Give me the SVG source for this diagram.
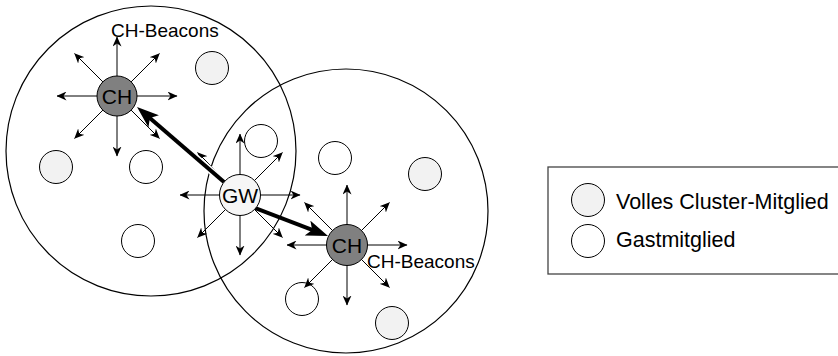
<svg xmlns="http://www.w3.org/2000/svg" width="838" height="356" viewBox="0 0 838 356">
<style>
  .big { fill: none; stroke: #000; stroke-width: 1.2; }
  .full { fill: #f2f2f2; stroke: #000; stroke-width: 1; }
  .guest { fill: #fff; stroke: #000; stroke-width: 1; }
  .ch { fill: #808080; stroke: #000; stroke-width: 1; }
  .gw { fill: #f6f6f6; stroke: #000; stroke-width: 1; }
  .beacon { stroke: #000; stroke-width: 1; fill: none; marker-end: url(#thin); }
  .thick { stroke: #000; stroke-width: 4; fill: none; marker-end: url(#big); }
  .halo { stroke: #fff; stroke-width: 7; fill: none; }
  text { font-family: "Liberation Sans", Arial, Helvetica, sans-serif; fill: #000; }
  .node { font-size: 21px; text-anchor: middle; }
  .lbl { font-size: 19px; }
  .leg { font-size: 21.5px; }
</style>
<defs>
  <marker id="thin" viewBox="0 0 10 9" markerWidth="10" markerHeight="9" refX="9.5" refY="4.5" orient="auto" markerUnits="userSpaceOnUse">
    <path d="M0,0 L10,4.5 L0,9 L3,4.5 z" fill="#000"/>
  </marker>
  <marker id="big" viewBox="0 0 22 16" markerWidth="22" markerHeight="16" refX="12" refY="8" orient="auto" markerUnits="userSpaceOnUse">
    <path d="M0,0 L22,8 L0,16 L5,8 z" fill="#000"/>
  </marker>
</defs>

<g id="clusters">
  <circle id="cluster1" class="big" cx="151" cy="151" r="145"/>
  <circle id="cluster2" class="big" cx="346" cy="211" r="142"/>
</g>

<g id="members">
  <circle id="m1" class="full" cx="212" cy="68" r="16.5"/>
  <circle id="m2" class="full" cx="56" cy="167" r="16.5"/>
  <circle id="m3" class="guest" cx="146" cy="167" r="16.5"/>
  <circle id="m4" class="guest" cx="261" cy="141" r="16.5"/>
  <circle id="m5" class="guest" cx="335" cy="158" r="16.5"/>
  <circle id="m6" class="full" cx="425" cy="174" r="16.5"/>
  <circle id="m7" class="guest" cx="138" cy="241" r="16.5"/>
  <circle id="m8" class="guest" cx="302" cy="299" r="16.5"/>
  <circle id="m9" class="full" cx="392" cy="323" r="16.5"/>
</g>

<g id="connectors">
  <g id="beacons-ch1">
    <line class="beacon" x1="117" y1="96" x2="117" y2="37"/>
    <line class="beacon" x1="117" y1="96" x2="117" y2="156"/>
    <line class="beacon" x1="117" y1="96" x2="57" y2="96"/>
    <line class="beacon" x1="117" y1="96" x2="177" y2="96"/>
    <line class="beacon" x1="117" y1="96" x2="74.6" y2="53.6"/>
    <line class="beacon" x1="117" y1="96" x2="159.4" y2="53.6"/>
    <line class="beacon" x1="117" y1="96" x2="74.6" y2="138.4"/>
    <line class="beacon" x1="117" y1="96" x2="159.4" y2="138.4"/>
  </g>
  <g id="beacons-gw">
    <line class="beacon" x1="240" y1="195" x2="240" y2="134"/>
    <line class="beacon" x1="240" y1="195" x2="240" y2="255"/>
    <line class="beacon" x1="240" y1="195" x2="180" y2="195"/>
    <line class="beacon" x1="240" y1="195" x2="300" y2="195"/>
    <line class="beacon" x1="240" y1="195" x2="197.6" y2="152.6"/>
    <line class="beacon" x1="240" y1="195" x2="282.4" y2="152.6"/>
    <line class="beacon" x1="240" y1="195" x2="197.6" y2="237.4"/>
    <line class="beacon" x1="240" y1="195" x2="282.4" y2="237.4"/>
  </g>
  <g id="beacons-ch2">
    <line class="beacon" x1="347" y1="245" x2="347" y2="185"/>
    <line class="beacon" x1="347" y1="245" x2="347" y2="305"/>
    <line class="beacon" x1="347" y1="245" x2="287" y2="245"/>
    <line class="beacon" x1="347" y1="245" x2="407" y2="245"/>
    <line class="beacon" x1="347" y1="245" x2="304.6" y2="202.6"/>
    <line class="beacon" x1="347" y1="245" x2="389.4" y2="202.6"/>
    <line class="beacon" x1="347" y1="245" x2="304.6" y2="287.4"/>
    <line class="beacon" x1="347" y1="245" x2="389.4" y2="287.4"/>
  </g>
  <g id="gw-to-ch1">
    <line class="halo" x1="224" y1="182" x2="146" y2="114.5"/>
    <line class="thick" x1="224" y1="182" x2="144.6" y2="113.5"/>
  </g>
  <g id="gw-to-ch2">
    <line class="thick" x1="250" y1="206" x2="318.7" y2="232.4"/>
  </g>
</g>

<g id="ch1">
  <circle class="ch" cx="117" cy="96" r="20"/>
  <text class="node" x="117" y="103.5">CH</text>
</g>
<g id="gw">
  <circle class="gw" cx="240" cy="195" r="20.5"/>
  <text class="node" x="240" y="202.5">GW</text>
</g>
<g id="ch2">
  <circle class="ch" cx="347" cy="245" r="20.5"/>
  <text class="node" x="347" y="252.5">CH</text>
</g>

<g id="labels">
  <text class="lbl" x="111" y="37">CH-Beacons</text>
  <text class="lbl" x="367" y="268">CH-Beacons</text>
</g>

<g id="legend">
  <rect x="548" y="167" width="300" height="107" fill="#fff" stroke="#444" stroke-width="1.3"/>
  <g id="legend-full">
    <circle class="full" cx="588" cy="200" r="16.5"/>
    <text class="leg" x="616" y="209">Volles Cluster-Mitglied</text>
  </g>
  <g id="legend-guest">
    <circle class="guest" cx="588" cy="241" r="16.5"/>
    <text class="leg" x="616" y="247">Gastmitglied</text>
  </g>
</g>
</svg>
